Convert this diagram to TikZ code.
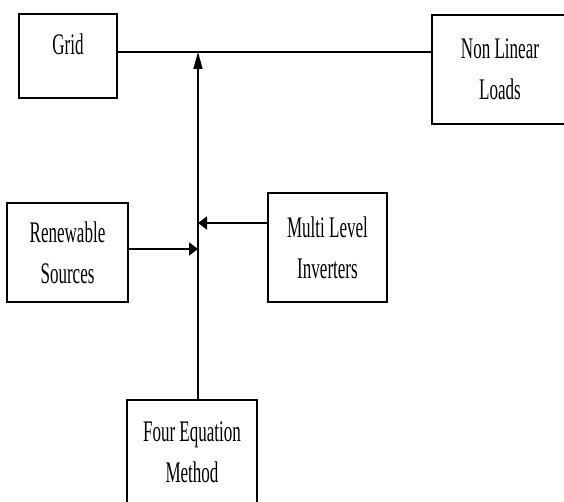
\documentclass[tikz,border=0pt]{standalone}
\usepackage{fontspec}
\usepackage{tikz}
\usetikzlibrary{arrows.meta}
\newfontfamily\blockfont[FakeStretch=0.57]{Liberation Serif}

\begin{document}
\begin{tikzpicture}[
  font=\blockfont\fontsize{17pt}{23.3pt}\selectfont,
  block/.style={draw,line width=1pt,align=center,inner sep=0pt},
  harrow/.style={-{Triangle[length=1.8mm,width=2.6mm]},line width=0.9pt},
  varrow/.style={-{Triangle[length=3.4mm,width=1.8mm]},line width=0.9pt},
  bus/.style={line width=0.9pt}
]
  \useasboundingbox[fill=white] (0,0) rectangle (11.28,10.04);

  \node[block,minimum width=1.96cm,minimum height=1.68cm,
    text height=0.42cm,text depth=0.46cm] (grid) at (1.36,8.92) {Grid};
  \node[block,minimum width=2.72cm,minimum height=2.18cm] (loads) at (10.0,8.65) {Non Linear\\Loads};
  \node[block,minimum width=2.42cm,minimum height=1.98cm] (renew) at (1.35,4.99) {Renewable\\Sources};
  \node[block,minimum width=2.38cm,minimum height=2.18cm] (mli) at (6.55,5.09) {Multi Level\\Inverters};
  \node[block,minimum width=2.6cm,minimum height=2.08cm] (fem) at (3.84,1.0) {Four Equation\\Method};

  \coordinate (top) at (3.96,9.0);
  \coordinate (jmli) at (3.96,5.58);
  \coordinate (jren) at (3.96,5.06);

  \draw[bus] (grid.east |- top) -- (loads.west |- top);
  \draw[varrow] (fem.north -| top) -- (top);
  \draw[harrow] (mli.west |- jmli) -- (jmli);
  \draw[harrow] (renew.east |- jren) -- (jren);
\end{tikzpicture}
\end{document}
